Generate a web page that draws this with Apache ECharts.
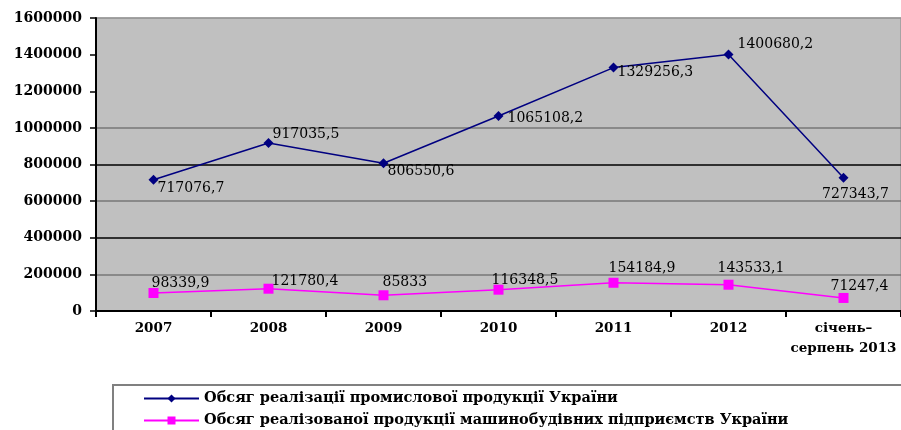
<!DOCTYPE html>
<html><head><meta charset="utf-8">
<script src="https://cdn.jsdelivr.net/npm/echarts@6/dist/echarts.min.js"></script>
<style>html,body{margin:0;padding:0;background:#fff}#c{width:901px;height:430px}</style>
</head><body><div id="c"></div>
<script>
const categories = ['2007','2008','2009','2010','2011','2012','січень–\nсерпень 2013'];
const industrial = [717076.7, 917035.5, 806550.6, 1065108.2, 1329256.3, 1400680.2, 727343.7];
const machinery = [98339.9, 121780.4, 85833, 116348.5, 154184.9, 143533.1, 71247.4];
const yTicks = [0, 200000, 400000, 600000, 800000, 1000000, 1200000, 1400000, 1600000];
const seriesNames = ['Обсяг реалізації промислової продукції України','Обсяг реалізованої продукції машинобудівних підприємств України'];

const industrialLabelOffsets = [[-6,9],[-6,-9],[-6,8],[-1,2],[-6,5],[-1,-10],[12,0]];
const machineryLabelOffsets = [[-12,-10],[-7,-7],[-11,-13],[-17,-9],[-15,-14],[-21,-16],[-23,-12]];

function fmt(v){ return String(v).replace('.', ','); }
const labelFont = {fontFamily:'DejaVu Serif', fontSize:14, color:'#000'};

const chart = echarts.init(document.getElementById('c'));
chart.setOption({
  animation:false,
  backgroundColor:'#fff',
  grid:{left:96, top:18, width:807, bottom:119, show:true, backgroundColor:'#c0c0c0', borderColor:'#888', borderWidth:1},
  graphic:[{type:'rect', shape:{x:113, y:385, width:800, height:60}, style:{fill:'none', stroke:'#808080', lineWidth:2}, z:-1}],
  legend:{orient:'vertical', left:143, top:390, height:40, itemWidth:55, itemHeight:10, itemGap:5, padding:0,
    textStyle:{fontFamily:'DejaVu Serif', fontWeight:'bold', fontSize:14.5, color:'#000', lineHeight:17},
    data:seriesNames},
  xAxis:{type:'category', data:categories, boundaryGap:true,
    axisLine:{lineStyle:{color:'#000', width:2}},
    axisTick:{show:true, length:6, lineStyle:{color:'#000', width:2}},
    axisLabel:{fontFamily:'DejaVu Serif', fontWeight:'bold', fontSize:13.5, color:'#000', margin:7, lineHeight:20, interval:0},
    splitLine:{show:false}},
  yAxis:{type:'value', min:yTicks[0], max:yTicks[yTicks.length-1], interval:yTicks[1]-yTicks[0],
    axisLine:{show:true, lineStyle:{color:'#000', width:2}},
    axisTick:{show:true, length:6, lineStyle:{color:'#000', width:1.5}},
    axisLabel:{fontFamily:'DejaVu Serif', fontWeight:'bold', fontSize:14, color:'#000', margin:14, formatter:v=>String(v)},
    splitLine:{show:true, lineStyle:{color:['#000','#777','#000','#777','#000','#777','rgba(0,0,0,0)','rgba(0,0,0,0)','#999'], width:1.5}}},
  series:[
    {name:seriesNames[0], type:'line', symbol:'diamond', symbolSize:10,
     itemStyle:{color:'#000080'}, lineStyle:{color:'#000080', width:1.5},
     data:industrial.map((v,i)=>({value:v, label:{show:true, position: i===6?'bottom':'right', offset:industrialLabelOffsets[i], formatter:fmt(v), ...labelFont}}))},
    {name:seriesNames[1], type:'line', symbol:'rect', symbolSize:10,
     itemStyle:{color:'#ff00ff'}, lineStyle:{color:'#ff00ff', width:1.5},
     data:machinery.map((v,i)=>({value:v, label:{show:true, position:'right', offset:machineryLabelOffsets[i], formatter:fmt(v), ...labelFont}}))}
  ]
});
</script></body></html>
